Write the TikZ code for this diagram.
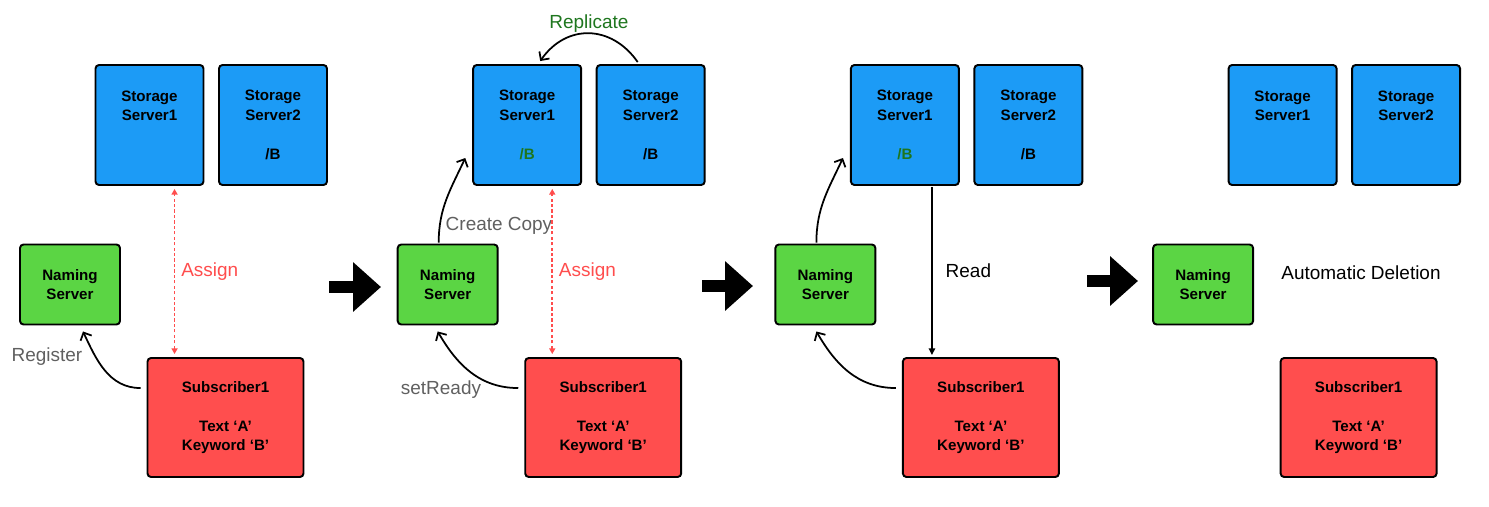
\documentclass[tikz,border=0pt]{standalone}
\usepackage{fontspec}
\setmainfont{Liberation Sans}
\usetikzlibrary{calc,
arrows.meta,
positioning}

\definecolor{ssblue}{RGB}{28,155,246}
\definecolor{nsgreen}{RGB}{91,213,68}
\definecolor{subred}{RGB}{255,78,78}
\definecolor{notegray}{RGB}{96,96,96}
\definecolor{assignred}{RGB}{255,77,77}
\definecolor{copygreen}{RGB}{30,118,30}

\newcommand*{\fileB}{/B}
\newcommand*{\fileBnew}{\textcolor{copygreen}{/B}}

\begin{document}
\begin{tikzpicture} [x=0.02cm, y=0.02cm,
    >={Straight Barb[length=3.5pt 0, width=7pt 0]},
    line width=1pt,
    box/.style={rectangle, draw, line width=1.1pt, rounded corners=2pt, align=center,
      font=\bfseries\fontsize{8.6}{11.1}\selectfont},
    storage/.style={box, fill=ssblue, minimum width=2.16cm, minimum height=2.4cm},
    naming/.style={box, fill=nsgreen, minimum width=2cm, minimum height=1.6cm},
    subscriber/.style={box, fill=subred, minimum width=3.12cm, minimum height=2.38cm},
    note text/.style={font=\fontsize{10.8}{13}\selectfont},
    assign line/.style={assignred, dash pattern=on 1.8pt off 1.3pt,
      {Triangle[length=3.2pt 0, width=3.4pt 0]}-{Triangle[length=3.2pt 0, width=3.4pt 0]}},
    read line/.style={-{Triangle[length=3.8pt 0, width=3.6pt 0]}},
    next arrow/.style={line width=6.3pt, -{Triangle[length=15.9pt 0, width=27.3pt 0]}}]

  \useasboundingbox (0,0) rectangle (1489,-507);

  % four snapshots of the same system
  \foreach \i/\fa/\fb in {0/{}/\fileB, 1/\fileBnew/\fileB, 2/\fileBnew/\fileB, 3/{}/{}}{
      \node [storage] (ssa\i) at (149.5 + \i*377.7, -125) {Storage\\Server1\\~\\\fa};
      \node [storage] (ssb\i) at (273 + \i*377.7, -125) {Storage\\Server2\\~\\\fb};
      \node [naming] (ns\i) at (70 + \i*377.7, -284.5) {Naming\\Server};
      \node [subscriber] (sub\i) at (225.5 + \i*377.7, -417.5)
      {Subscriber1\\~\\Text ‘A’\\Keyword ‘B’};
    }

  % step arrows
  \coordinate (s0) at (329,-287);
  \coordinate (t0) at (381,-287);
  \coordinate (s1) at (702,-286);
  \coordinate (t1) at (753,-286);
  \coordinate (s2) at (1087,-281);
  \coordinate (t2) at (1138,-281);
  \foreach \k in {0,1,2}{
      \draw [next arrow] (s\k) -- (t\k);
    }

  % snapshot 1
  \draw [assign line] ($(sub0.north west)+(28,3)$) --
  node [midway, right, note text, assignred] (asg0) {Assign}
  ($(sub0.north west |- ssa0.south)+(28,-3)$);

  \draw [->] ($(sub0.north west)+(-6,-31)$) to [out=180, in=-65] ($(ns0.south)+(13,-6)$);
  \node [note text, notegray] (reg) at (47,-357) {Register};

  % snapshot 2
  \draw [->] ($(ssb1.north)+(-13,2)$) to [out=125, in=55, looseness=1.2]
  node [midway, above, inner sep=0pt, note text, copygreen] (rep) {Replicate}
  ($(ssa1.north)+(13,3)$);

  \draw [->] ($(ns1.north)+(-9,1)$) to [out=90, in=-115] ($(ssa1.west)+(-7,-33)$);
  \node [note text, notegray] (cc) at (499,-226) {Create Copy};

  \draw [assign line] ($(sub1.north west)+(28,3)$) --
  node [midway, right, note text, assignred] (asg1) {Assign}
  ($(sub1.north west |- ssa1.south)+(28,-3)$);

  \draw [->] ($(sub1.north west)+(-6,-31)$) to [out=180, in=-60] ($(ns1.south)+(-10,-6)$);
  \node [note text, notegray] (rdy) at (441,-390) {setReady};

  % snapshot 3
  \draw [->] ($(ns2.north)+(-9,1)$) to [out=90, in=-115] ($(ssa2.west)+(-7,-33)$);

  \draw [read line] ($(sub2.north west |- ssa2.south)+(30,-1)$) --
  node [midway, right=4pt, note text] (rd) {Read}
  ($(sub2.north west)+(30,2)$);

  \draw [->] ($(sub2.north west)+(-6,-31)$) to [out=180, in=-60] ($(ns2.south)+(-9,-6)$);

  % snapshot 4
  \node [note text] (del) at (1361,-273) {Automatic Deletion};

\end{tikzpicture}
\end{document}
